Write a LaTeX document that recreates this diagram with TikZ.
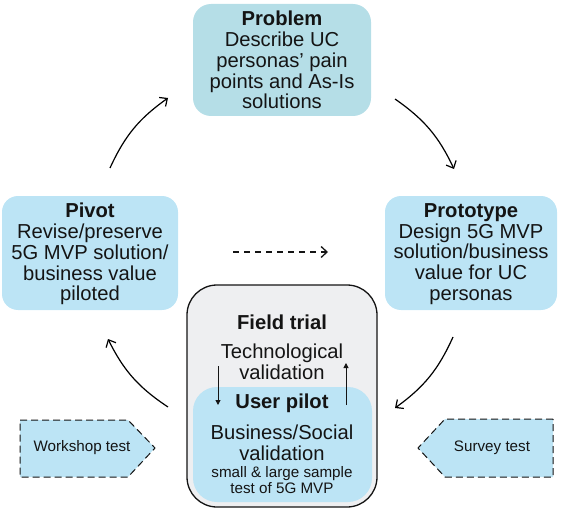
\documentclass[tikz,border=0pt]{standalone}
\usepackage{fontspec}
\setmainfont{Liberation Sans}
\usetikzlibrary{arrows.meta}
\definecolor{probfill}{HTML}{B5DEE7}
\definecolor{boxfill}{HTML}{BCE4F5}
\definecolor{trialfill}{HTML}{EEEFF1}
\definecolor{txt}{HTML}{141414}
\tikzset{
  bigtxt/.style={font=\fontsize{20.2}{20.8}\selectfont, text=txt, align=center, inner sep=0pt},
  smalltxt/.style={font=\fontsize{15.2}{15.2}\selectfont, text=txt, align=center, inner sep=0pt},
  cyclearrow/.style={-{Straight Barb[length=6pt,width=11pt]}, line width=1.2pt, black, bend left=15},
  testshape/.style={fill=boxfill, draw=txt, line width=1pt, dash pattern=on 7pt off 4pt},
}
\begin{document}
\begin{tikzpicture}[x=1pt,y=-1pt]
\useasboundingbox (0,0) rectangle (563,511);
% main boxes
\fill[probfill, rounded corners=18pt] (193,4) rectangle (371,116);
\node[bigtxt] (problem) at (282,60) {\textbf{Problem}\\Describe UC\\personas' pain\\points and As-Is\\solutions};
\fill[boxfill, rounded corners=16pt] (2,196) rectangle (178,310);
\node[bigtxt] (pivot) at (90,254) {\textbf{Pivot}\\Revise/preserve\\5G MVP solution/\\business value\\piloted};
\fill[boxfill, rounded corners=16pt] (385,196) rectangle (557,310);
\node[bigtxt] (proto) at (471,254) {\textbf{Prototype}\\Design 5G MVP\\solution/business\\value for UC\\personas};
% field trial
\draw[fill=trialfill, draw=txt, line width=1.3pt, rounded corners=30pt] (187,285) rectangle (377,507);
\fill[boxfill, rounded corners=24pt] (193,387) rectangle (372,502);
\node[bigtxt] (field) at (282,322) {\textbf{Field trial}};
\node[bigtxt] (tech) at (282,362) {Technological\\validation};
\node[bigtxt] (user) at (282,403) {\textbf{User pilot}};
\node[bigtxt] (bus) at (282,443) {Business/Social\\validation};
\node[smalltxt] (sample) at (282,480) {small \& large sample\\test of 5G MVP};
\coordinate (dA) at (218,366);
\coordinate (dB) at (218,405);
\coordinate (uA) at (346,405);
\coordinate (uB) at (346,363);
\draw[line width=1pt, txt, -{Triangle[length=5pt,width=5pt]}] (dA) -- (dB);
\draw[line width=1pt, txt, -{Triangle[length=5pt,width=5pt]}] (uA) -- (uB);
% cycle arrows
\coordinate (a1s) at (110,168);
\coordinate (a1e) at (168,98);
\coordinate (a2s) at (395,99);
\coordinate (a2e) at (454,169);
\coordinate (a3s) at (453,337);
\coordinate (a3e) at (395,408);
\coordinate (a4s) at (168,407);
\coordinate (a4e) at (108,339);
\draw[cyclearrow] (a1s) to (a1e);
\draw[cyclearrow] (a2s) to (a2e);
\draw[cyclearrow] (a3s) to (a3e);
\draw[cyclearrow] (a4s) to (a4e);
% dashed arrow
\coordinate (ds) at (233,252);
\coordinate (de) at (328,252);
\draw[line width=1.3pt, txt, dash pattern=on 6pt off 5pt, -{Straight Barb[length=6pt,width=11pt]}] (ds) -- (de);
% test shapes
\draw[testshape] (20,420) -- (128,420) -- (155,448) -- (128,477) -- (20,477) -- cycle;
\node[smalltxt] (workshop) at (82,448) {Workshop test};
\draw[testshape] (553,419) -- (445,419) -- (418,448) -- (445,477) -- (553,477) -- cycle;
\node[smalltxt] (survey) at (492,448) {Survey test};
\end{tikzpicture}
\end{document}
